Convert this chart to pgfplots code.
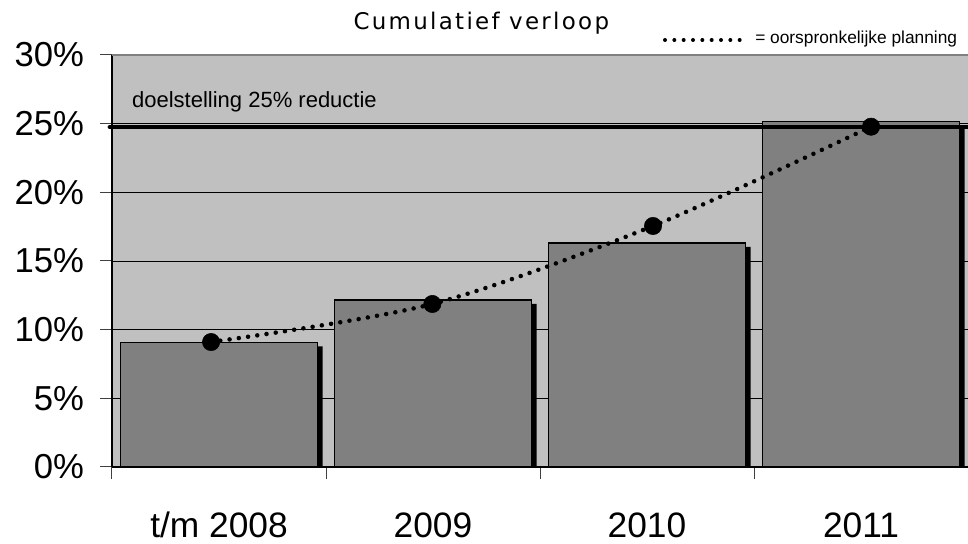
\documentclass[border=0pt]{standalone}
\usepackage{pgfplots}
\pgfplotsset{compat=1.18}
\usepackage{fontspec}
\setmainfont{Liberation Sans}
\definecolor{bg}{HTML}{C0C0C0}
\definecolor{barfill}{HTML}{808080}
\begin{document}
\begin{tikzpicture}
\useasboundingbox (0,0) rectangle (726pt,407.25pt);
\begin{axis}[
  at={(84pt,57pt)}, anchor=south west,
  scale only axis, width=642pt, height=309pt,
  xmin=-0.5, xmax=3.5, ymin=0, ymax=30,
  axis x line*=bottom, axis y line*=left,
  axis line style={black, line width=0.8pt},
  axis background/.style={fill=bg},
  ytick={0,5,...,30},
  yticklabel={\pgfmathprintnumber{\tick}\%},
  ymajorgrids, grid style={black, line width=0.6pt},
  tick align=outside, major tick length=9pt,
  tick style={black!75, line width=0.75pt},
  y tick label style={font=\fontsize{26}{28}\selectfont, xshift=-8.5pt},
  /pgf/number format/assume math mode=true,
  xtick={-0.5,0.5,1.5,2.5,3.5}, xticklabels={},
  extra x ticks={0,1,2,3},
  extra x tick labels={t/m 2008,2009,2010,2011},
  extra x tick style={tick style={draw=none},
     tick label style={font=\fontsize{26.5}{28}\selectfont, anchor=base, yshift=-43.5pt}},
  clip=false,
]
% shadows of the bars
\addplot[ybar, bar width=147.75pt, bar shift=3.75pt, fill=black, draw=none]
  coordinates {(0,8.79) (1,11.87) (2,16.02) (3,24.85)};
% bars
\addplot[ybar, bar width=147.75pt, bar shift=0pt, fill=barfill, draw=black, line width=1pt]
  coordinates {(0,9.08) (1,12.16) (2,16.31) (3,25.14)};
% top border
\draw[barfill, line width=1.5pt] (rel axis cs:0,1) -- (rel axis cs:1,1);
% target line
\addplot[black, line width=3.4pt, line cap=round] coordinates {(-0.51,24.75) (3.5,24.75)};
\node[anchor=base west, inner sep=0pt, font=\fontsize{16.5}{18}\selectfont]
  at (axis cs:-0.407,26.2) {doelstelling 25\% reductie};
% original planning
\addplot[smooth, black, line width=3.4pt, line cap=round, dash pattern=on 0pt off 7pt]
  coordinates {(-0.037,9.1) (0.997,11.87) (2.028,17.55) (3.047,24.78)};
\addplot[only marks, mark=*, mark size=6.5pt, black]
  coordinates {(-0.037,9.1) (0.997,11.87) (2.028,17.55) (3.047,24.78)};
\end{axis}
\node[anchor=base west, inner sep=0pt] at (265pt,385.3pt)
  {\fontsize{17.2}{20}\fontspec{DejaVu Sans}[LetterSpace=10]Cumulatief verloop};
\draw[black, line width=3pt, line cap=round, dash pattern=on 0pt off 7pt] (498.75pt,377.25pt) -- (555pt,377.25pt);
\node[anchor=base west, inner sep=0pt, font=\fontsize{13}{15}\selectfont] at (566.25pt,374.8pt) {= oorspronkelijke planning};
\end{tikzpicture}
\end{document}
